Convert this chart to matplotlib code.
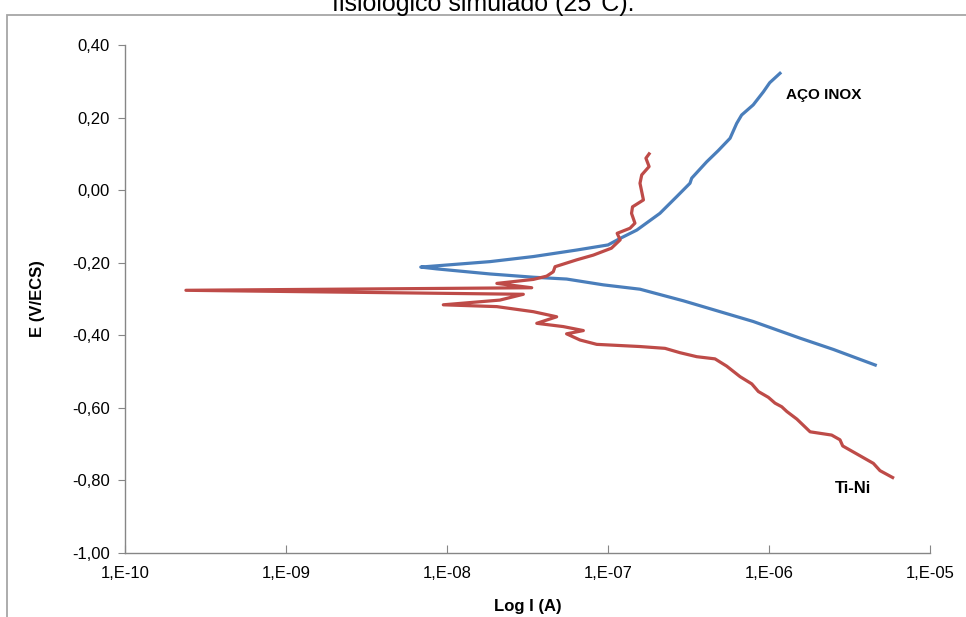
import matplotlib
matplotlib.use("Agg")
import matplotlib.pyplot as plt
from matplotlib.patches import Rectangle

plt.rcParams['font.family'] = ['Liberation Sans', 'DejaVu Sans']

# AÇO INOX (stainless steel) polarization curve: current (A), potential (V/ECS)
inox_i = [1.17e-6, 1.01e-6, 9.23e-7, 7.98e-7, 6.76e-7, 6.30e-7, 5.73e-7, 4.84e-7,
          4.10e-7, 3.31e-7, 3.23e-7, 2.67e-7, 2.10e-7, 1.51e-7, 1.19e-7, 1.00e-7,
          6.40e-8, 3.44e-8, 1.85e-8, 6.87e-9, 8.63e-9, 1.85e-8, 3.44e-8, 5.53e-8,
          9.35e-8, 1.58e-7, 2.94e-7, 7.98e-7, 1.56e-6, 2.51e-6, 4.57e-6]
inox_e = [0.322, 0.296, 0.271, 0.235, 0.207, 0.184, 0.143, 0.109,
          0.078, 0.033, 0.019, -0.018, -0.064, -0.110, -0.133, -0.151,
          -0.165, -0.183, -0.197, -0.212, -0.217, -0.231, -0.240, -0.245,
          -0.261, -0.273, -0.305, -0.362, -0.408, -0.439, -0.482]

# Ti-Ni polarization curve
tini_i = [1.80e-7, 1.72e-7, 1.80e-7, 1.62e-7, 1.58e-7, 1.66e-7, 1.42e-7, 1.40e-7,
          1.47e-7, 1.37e-7, 1.14e-7, 1.19e-7, 1.05e-7, 8.11e-8, 6.40e-8, 4.69e-8,
          4.57e-8, 4.16e-8, 3.44e-8, 2.04e-8, 3.36e-8, 2.39e-10, 2.98e-8, 2.13e-8,
          9.48e-9, 2.04e-8, 3.44e-8, 4.80e-8, 3.61e-8, 5.27e-8, 7.03e-8, 5.53e-8,
          6.70e-8, 8.51e-8, 1.58e-7, 2.26e-7, 2.80e-7, 3.56e-7, 4.62e-7, 5.46e-7,
          6.61e-7, 7.82e-7, 8.59e-7, 9.91e-7, 1.09e-6, 1.20e-6, 1.29e-6, 1.49e-6,
          1.80e-6, 2.45e-6, 2.76e-6, 2.87e-6, 3.51e-6, 4.45e-6, 4.89e-6, 5.86e-6]
tini_e = [0.100, 0.088, 0.065, 0.042, 0.019, -0.027, -0.046, -0.064,
          -0.091, -0.105, -0.119, -0.137, -0.160, -0.179, -0.192, -0.211,
          -0.225, -0.237, -0.246, -0.257, -0.269, -0.276, -0.287, -0.303,
          -0.316, -0.321, -0.335, -0.349, -0.367, -0.376, -0.387, -0.396,
          -0.413, -0.425, -0.431, -0.436, -0.448, -0.459, -0.465, -0.485,
          -0.514, -0.534, -0.555, -0.571, -0.587, -0.597, -0.610, -0.631,
          -0.666, -0.675, -0.688, -0.705, -0.727, -0.753, -0.773, -0.792]

x_ticks = [1e-10, 1e-9, 1e-8, 1e-7, 1e-6, 1e-5]
x_tick_labels = ["1,E-10", "1,E-09", "1,E-08", "1,E-07", "1,E-06", "1,E-05"]
y_ticks = [-1.0, -0.8, -0.6, -0.4, -0.2, 0.0, 0.2, 0.4]
y_tick_labels = ["-1,00", "-0,80", "-0,60", "-0,40", "-0,20", "0,00", "0,20", "0,40"]

W, H = 966, 617
fig = plt.figure(figsize=(W / 100, H / 100), dpi=100)

# chart-area frame (extends beyond right and bottom edges)
frame = Rectangle((7 / W, -0.2), 1.2, 1 - 15 / H + 0.2, transform=fig.transFigure,
                  fill=False, edgecolor='#A6A6A6', linewidth=1.3, zorder=0)
fig.patches.append(frame)

# cut-off title line
fig.text(0.5, 1 - 11 / H, "fisiológico simulado (25°C).", ha='center', va='baseline',
         fontsize=18)

ax = fig.add_axes([125 / W, 1 - 553 / H, (930 - 125) / W, (553 - 45) / H])
ax.plot(inox_i, inox_e, color='#4A7EBB', linewidth=2.3, solid_joinstyle='round')
ax.plot(tini_i, tini_e, color='#BE4B48', linewidth=2.3, solid_joinstyle='round')

ax.set_xscale('log')
ax.set_xlim(1e-10, 1e-5)
ax.set_ylim(-1.0, 0.4)
ax.set_xticks(x_ticks)
ax.set_xticklabels(x_tick_labels)
ax.minorticks_off()
ax.set_yticks(y_ticks)
ax.set_yticklabels(y_tick_labels)

for s in ['top', 'right']:
    ax.spines[s].set_visible(False)
for s in ['left', 'bottom']:
    ax.spines[s].set_color('#868686')
    ax.spines[s].set_linewidth(1.0)
ax.tick_params(axis='y', direction='out', length=5, color='#868686', labelsize=12, pad=6)
ax.tick_params(axis='x', direction='in', length=6, color='#868686', labelsize=12, pad=9)

ax.set_ylabel("E (V/ECS)", fontsize=12, fontweight='bold', labelpad=19)
ax.set_xlabel("Log I (A)", fontsize=12, fontweight='bold', labelpad=13)

ax.text(1.28e-6, 0.262, "AÇO INOX", fontsize=11, fontweight='bold', ha='left', va='center')
ax.text(3.33e-6, -0.821, "Ti-Ni", fontsize=12, fontweight='bold', ha='center', va='center')

fig.savefig("out.png", dpi=100)
